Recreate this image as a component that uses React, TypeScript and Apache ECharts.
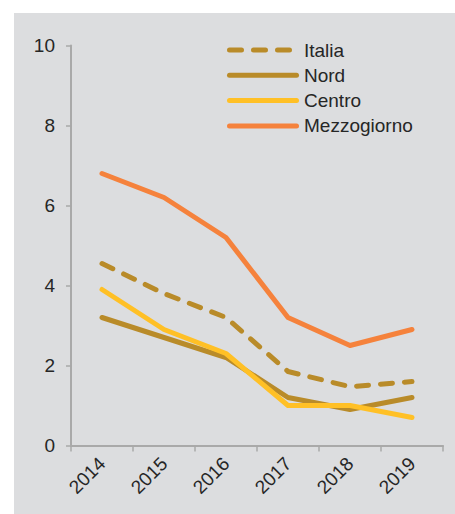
import React, { useEffect, useRef } from 'react';
import * as echarts from 'echarts';

const years = ['2014', '2015', '2016', '2017', '2018', '2019'];
const seriesNames = ['Italia', 'Nord', 'Centro', 'Mezzogiorno'];
const italia = [4.55, 3.8, 3.2, 1.85, 1.47, 1.6];
const nord = [3.2, 2.7, 2.2, 1.2, 0.9, 1.2];
const centro = [3.9, 2.9, 2.3, 1.0, 1.0, 0.7];
const mezzogiorno = [6.8, 6.2, 5.2, 3.2, 2.5, 2.9];

const GOLD = '#B98B29';
const YELLOW = '#FFC026';
const ORANGE = '#F5823C';
const TEXT = '#262626';
const AXIS = '#A9A9A9';
const FONT = '"Liberation Sans", Arial, sans-serif';

const solidIcon = 'path://M2.5,0L69.5,0A2.5,2.5,0,0,1,69.5,5L2.5,5A2.5,2.5,0,0,1,2.5,0Z';
const dashedIcon =
  'path://M2.5,0L14.5,0A2.5,2.5,0,0,1,14.5,5L2.5,5A2.5,2.5,0,0,1,2.5,0Z' +
  'M26.5,0L38.5,0A2.5,2.5,0,0,1,38.5,5L26.5,5A2.5,2.5,0,0,1,26.5,0Z' +
  'M50.5,0L62.5,0A2.5,2.5,0,0,1,62.5,5L50.5,5A2.5,2.5,0,0,1,50.5,0Z' +
  'M72,5';

export default function App() {
  const ref = useRef<HTMLDivElement>(null);
  useEffect(() => {
    if (!ref.current) return;
    const chart = echarts.init(ref.current, null, { renderer: 'svg' });
    const line = (name: string, data: number[], color: string, dashed = false) => ({
      name,
      type: 'line',
      data,
      symbol: 'none',
      showSymbol: false,
      color,
      lineStyle: {
        color,
        width: 5,
        type: dashed ? [12, 12] : 'solid',
        cap: 'round',
        join: 'round',
      },
      z: 3,
    });
    chart.setOption({
      animation: false,
      backgroundColor: '#ffffff',
      textStyle: { fontFamily: FONT },
      graphic: {
        elements: [
          {
            type: 'rect',
            shape: { x: 14, y: 13, width: 441, height: 501 },
            style: { fill: '#DCDDDF' },
            z: -100,
            silent: true,
          },
        ],
      },
      grid: { left: 71, right: 12, top: 45.5, bottom: 68.5 },
      legend: {
        orient: 'vertical',
        left: 227,
        top: 40,
        padding: 0,
        itemWidth: 72,
        itemHeight: 5,
        itemGap: 5.3,
        textStyle: { fontSize: 19, color: TEXT, fontFamily: FONT, lineHeight: 20 },
        data: [
          { name: seriesNames[0], icon: dashedIcon },
          { name: seriesNames[1], icon: solidIcon },
          { name: seriesNames[2], icon: solidIcon },
          { name: seriesNames[3], icon: solidIcon },
        ],
      },
      xAxis: {
        type: 'category',
        data: years,
        boundaryGap: true,
        axisLine: { show: true, lineStyle: { color: AXIS, width: 2 } },
        axisTick: { show: true, length: 6, lineStyle: { color: AXIS, width: 1.5 } },
        axisLabel: { rotate: 45, fontSize: 19, color: TEXT, fontFamily: FONT, margin: 15 },
        splitLine: { show: false },
      },
      yAxis: {
        type: 'value',
        min: 0,
        max: 10,
        interval: 2,
        axisLine: { show: true, lineStyle: { color: AXIS, width: 2 } },
        axisTick: { show: true, length: 5, lineStyle: { color: AXIS, width: 1.5 } },
        axisLabel: { fontSize: 19, color: TEXT, fontFamily: FONT, margin: 16 },
        splitLine: { show: false },
      },
      series: [
        line(seriesNames[0], italia, GOLD, true),
        line(seriesNames[1], nord, GOLD),
        line(seriesNames[2], centro, YELLOW),
        line(seriesNames[3], mezzogiorno, ORANGE),
      ],
    });
    return () => chart.dispose();
  }, []);
  return (
    <div
      ref={ref}
      style={{ position: 'absolute', left: 0, top: 0, width: 455, height: 514 }}
    />
  );
}
